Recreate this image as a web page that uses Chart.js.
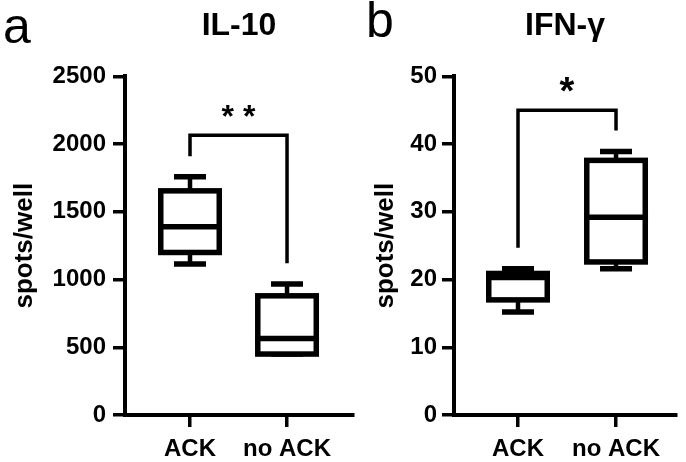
<!DOCTYPE html>
<html>
<head>
<meta charset="utf-8">
<script src="https://cdn.jsdelivr.net/npm/chart.js@4.4.1/dist/chart.umd.min.js"></script>
<style>
  html, body { margin: 0; padding: 0; background: #fff; }
  .panel { position: absolute; left: 0; top: 0; width: 686px; height: 462px; }
</style>
</head>
<body>
<div class="panel"><canvas id="chartA"></canvas></div>
<div class="panel"><canvas id="chartB"></canvas></div>
<script>
const groups = ['ACK', 'no ACK']

// IL-10 spots/well (box = Q1..Q3, whiskers = min..max)
const il10Min = [1115, 450]
const il10Q1 = [1200, 450]
const il10Median = [1390, 565]
const il10Q3 = [1655, 880]
const il10Max = [1760, 968]
const il10Ticks = [0, 500, 1000, 1500, 2000, 2500]
const il10Bracket = [2065, 1910, 1120] // top, left leg end, right leg end
const il10Sig = '* *'

// IFN-γ spots/well
const ifnMin = [15.2, 21.6]
const ifnQ1 = [17.0, 22.6]
const ifnMedian = [20.3, 29.2]
const ifnQ3 = [20.9, 37.6]
const ifnMax = [21.6, 38.9]
const ifnTicks = [0, 10, 20, 30, 40, 50]
const ifnBracket = [45, 24.7, 42]
const ifnSig = '*'

const FONT = 'Arial, "Liberation Sans", Helvetica, sans-serif'

function line(ctx, x1, y1, x2, y2) {
  ctx.beginPath()
  ctx.moveTo(x1, y1)
  ctx.lineTo(x2, y2)
  ctx.stroke()
}

// draws box outline, median and whiskers on top of the floating bars
const boxPlot = {
  id: 'boxPlot',
  afterDatasetsDraw(chart, args, opts) {
    const { ctx, scales: { y } } = chart
    const bars = chart.getDatasetMeta(0).data
    const lw = 5.5
    ctx.save()
    ctx.strokeStyle = '#000'
    ctx.lineCap = 'butt'
    bars.forEach((bar, i) => {
      const cx = bar.x
      const half = bar.width / 2
      const top = bar.y
      const bottom = bar.base
      const yMax = y.getPixelForValue(opts.max[i])
      const yMin = y.getPixelForValue(opts.min[i])
      // whiskers
      ctx.lineWidth = 4.5
      line(ctx, cx, yMax, cx, top)
      line(ctx, cx, bottom, cx, yMin)
      ctx.lineWidth = lw
      line(ctx, cx - 16, yMax, cx + 16, yMax)
      line(ctx, cx - 16, yMin, cx + 16, yMin)
      // box
      ctx.fillStyle = '#fff'
      ctx.fillRect(cx - half, top, bar.width, bottom - top)
      ctx.strokeRect(cx - half + lw / 2, top, bar.width - lw, bottom - top)
      // median
      const m = y.getPixelForValue(opts.median[i])
      line(ctx, cx - half, m, cx + half, m)
    })
    ctx.restore()
  }
}

const bracket = {
  id: 'bracket',
  afterDraw(chart, args, opts) {
    const { ctx, scales: { x, y } } = chart
    const x1 = x.getPixelForValue(0)
    const x2 = x.getPixelForValue(1)
    const yTop = y.getPixelForValue(opts.levels[0])
    ctx.save()
    ctx.strokeStyle = '#000'
    ctx.lineWidth = 3.5
    ctx.lineJoin = 'miter'
    ctx.beginPath()
    ctx.moveTo(x1, y.getPixelForValue(opts.levels[1]))
    ctx.lineTo(x1, yTop)
    ctx.lineTo(x2, yTop)
    ctx.lineTo(x2, y.getPixelForValue(opts.levels[2]))
    ctx.stroke()
    ctx.fillStyle = '#000'
    ctx.font = 'bold ' + opts.size + 'px ' + FONT
    ctx.textAlign = 'center'
    ctx.textBaseline = 'alphabetic'
    ctx.fillText(opts.text, (x1 + x2) / 2, yTop + opts.dy)
    // panel letter
    ctx.font = '50px ' + FONT
    ctx.textAlign = 'left'
    ctx.fillText(opts.letter, opts.letterX, opts.letterY)
    ctx.restore()
  }
}

function makeChart(id, cfg) {
  const tickFont = { family: FONT, size: 24, weight: 'bold' }
  return new Chart(document.getElementById(id), {
    type: 'bar',
    data: {
      datasets: [{
        data: groups.map((g, i) => ({ x: i, y: [cfg.q1[i], cfg.q3[i]] })),
        backgroundColor: '#fff',
        borderWidth: 0,
        barThickness: 64
      }]
    },
    options: {
      responsive: true,
      maintainAspectRatio: false,
      animation: false,
      layout: { padding: cfg.padding },
      plugins: {
        legend: { display: false },
        tooltip: { enabled: false },
        title: {
          display: true,
          text: cfg.title,
          fullSize: false,
          color: '#000',
          font: { family: FONT, size: 32, weight: 'bold' },
          padding: { top: 7, bottom: 31 }
        },
        boxPlot: { min: cfg.min, median: cfg.median, max: cfg.max },
        bracket: cfg.bracket
      },
      scales: {
        x: {
          type: 'linear',
          offset: false,
          min: cfg.xRange[0],
          max: cfg.xRange[1],
          afterBuildTicks: (s) => { s.ticks = groups.map((g, i) => ({ value: i })) },
          afterFit: (s) => { s.height = 47 },
          ticks: {
            callback: (v) => groups[v],
            autoSkip: false,
            maxRotation: 0,
            color: '#000',
            font: tickFont,
            padding: 8
          },
          grid: { offset: false, drawOnChartArea: false, tickLength: 12, lineWidth: 3.5, color: '#000' },
          border: { width: 4, color: '#000' }
        },
        y: {
          min: cfg.ticks[0],
          max: cfg.ticks[cfg.ticks.length - 1],
          afterBuildTicks: (s) => { s.ticks = cfg.ticks.map(v => ({ value: v })) },
          afterFit: (s) => { s.width = cfg.yWidth },
          ticks: { color: '#000', font: tickFont, padding: cfg.tickPad, callback: (v) => String(v) },
          grid: { drawOnChartArea: false, tickLength: 12, lineWidth: 3.5, color: '#000' },
          border: { width: 4, color: '#000' },
          title: {
            display: true,
            text: 'spots/well',
            color: '#000',
            font: { family: FONT, size: 26, weight: 'bold' },
            padding: { top: 9, bottom: 0 }
          }
        }
      }
    },
    plugins: [boxPlot, bracket]
  })
}

makeChart('chartA', {
  title: 'IL-10',
  q1: il10Q1, q3: il10Q3, min: il10Min, median: il10Median, max: il10Max,
  ticks: il10Ticks,
  xRange: [-0.67, 1.68],
  yWidth: 125,
  tickPad: 7,
  padding: { left: 0, right: 333, top: 0, bottom: 0 },
  bracket: { levels: il10Bracket, text: il10Sig, size: 32, dy: -8, letter: 'a', letterX: 3, letterY: 43 }
})

makeChart('chartB', {
  title: 'IFN-γ',
  q1: ifnQ1, q3: ifnQ3, min: ifnMin, median: ifnMedian, max: ifnMax,
  ticks: ifnTicks,
  xRange: [-0.653, 1.612],
  yWidth: 93,
  tickPad: 5,
  padding: { left: 361, right: 10, top: 0, bottom: 0 },
  bracket: { levels: ifnBracket, text: ifnSig, size: 38, dy: -6, letter: 'b', letterX: 366, letterY: 37 }
})
</script>
</body>
</html>
